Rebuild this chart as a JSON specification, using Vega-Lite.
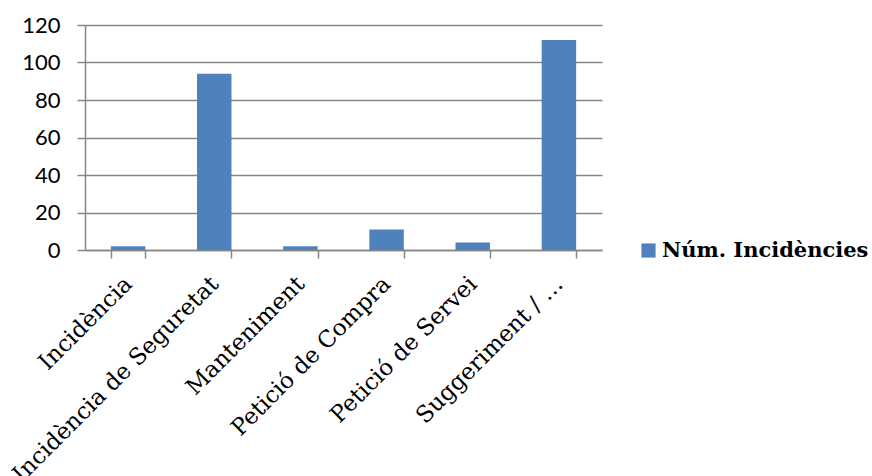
{
  "$schema": "https://vega.github.io/schema/vega-lite/v6.json",
  "autosize": {"type": "none"},
  "width": 517,
  "height": 225,
  "padding": {"left": 85, "top": 25, "right": 270, "bottom": 226},
  "background": "white",
  "data": {"values": [
    {"tipus": "Incidència", "serie": "Núm. Incidències", "n": 2},
    {"tipus": "Incidència de Seguretat", "serie": "Núm. Incidències", "n": 94},
    {"tipus": "Manteniment", "serie": "Núm. Incidències", "n": 2},
    {"tipus": "Petició de Compra", "serie": "Núm. Incidències", "n": 11},
    {"tipus": "Petició de Servei", "serie": "Núm. Incidències", "n": 4},
    {"tipus": "Suggeriment / …", "serie": "Núm. Incidències", "n": 112}
  ]},
  "mark": {"type": "bar"},
  "encoding": {
    "x": {
      "field": "tipus", "type": "nominal", "sort": null,
      "scale": {"paddingInner": 0.6, "paddingOuter": 0.3},
      "axis": {
        "title": null, "labelAngle": -45, "labelAlign": "right", "labelBaseline": "middle",
        "labelFont": "DejaVu Serif", "labelFontSize": 23, "labelColor": "#000",
        "labelPadding": 22, "labelDx": -2, "tickBand": "extent", "tickSize": 8, "tickColor": "#868686",
        "domainColor": "#868686", "domainWidth": 1.5, "tickWidth": 1.5, "grid": false, "labelLimit": 400
      }
    },
    "y": {
      "field": "n", "type": "quantitative",
      "scale": {"domain": [0, 120], "nice": false},
      "axis": {
        "title": null, "values": [0, 20, 40, 60, 80, 100, 120],
        "labelFont": "Lato", "labelFontSize": 22, "labelColor": "#000", "labelPadding": 17,
        "tickSize": 8, "tickColor": "#868686", "tickWidth": 1.5,
        "domainColor": "#868686", "domainWidth": 1.5,
        "grid": true, "gridColor": "#868686", "gridWidth": 1.5
      }
    },
    "color": {
      "field": "serie", "type": "nominal",
      "scale": {"range": ["#4F81BD"]},
      "legend": {
        "title": null, "orient": "none", "legendX": 553, "legendY": 215,
        "symbolType": "square", "symbolSize": 200, "symbolStrokeWidth": 0,
        "labelFont": "DejaVu Serif", "labelFontSize": 21, "labelFontWeight": "bold", "labelColor": "#000",
        "labelOffset": 3, "labelLimit": 400
      }
    }
  },
  "config": {"view": {"stroke": null}}
}
